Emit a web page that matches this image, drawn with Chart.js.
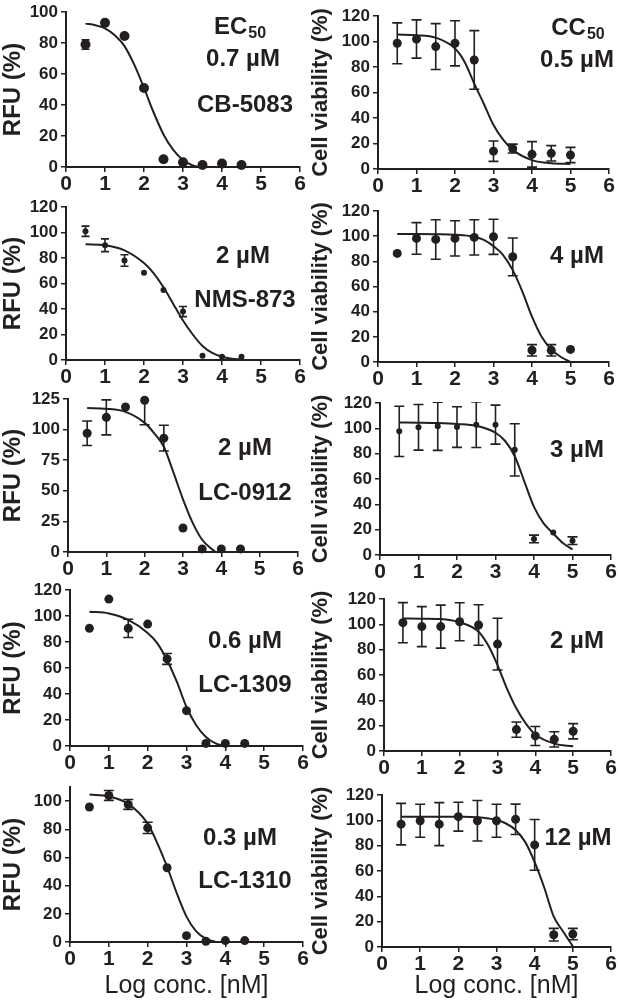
<!DOCTYPE html>
<html>
<head>
<meta charset="utf-8">
<script src="https://cdn.jsdelivr.net/npm/chart.js@4.4.1/dist/chart.umd.min.js"></script>
<style>
  body { margin: 0; background: #fff; width: 618px; height: 1004px; position: relative; overflow: hidden; }
  canvas { position: absolute; }
</style>
</head>
<body>
<script>
// doses (log nM)
const doseRfu = [0.5, 1, 1.5, 2, 2.5, 3, 3.5, 4, 4.5];
const doseViab = [0.5, 1, 1.5, 2, 2.5, 3, 3.5, 4, 4.5, 5];
const xTicks = [0, 1, 2, 3, 4, 5, 6];

// CB-5083
const cbRfu = [79, 93, 84.5, 51, 5, 3, 1.3, 2.2, 1.3];
const cbRfuErr = [3, 0, 0, 0, 0, 0, 0, 0, 0];
const cbRfuFitX = [0.5, 0.75, 1, 1.25, 1.5, 1.75, 2, 2.25, 2.5, 2.75, 3, 3.25, 3.4];
const cbRfuFitY = [92.5, 91.5, 89.5, 85, 78, 66, 51, 35, 21, 11, 4.5, 1, 0];
const cbViab = [98.6, 102, 96, 98.6, 85.5, 14, 16, 11.5, 12.3, 11];
const cbViabErr = [16, 15, 18, 17.7, 23, 8, 3.5, 10, 6, 6];
const cbViabFitX = [0.5, 1, 1.5, 2, 2.25, 2.5, 2.75, 3, 3.25, 3.5, 4, 4.5, 5];
const cbViabFitY = [105.5, 105, 103, 94.5, 84, 67, 51, 34.5, 23, 15, 7, 4.5, 4];

// NMS-873
const nmsRfu = [101, 90, 78, 68.5, 55, 38, 3.4, 2.6, 2.6];
const nmsRfuErr = [4, 5, 4.5, 0, 0, 4, 0, 0, 0];
const nmsRfuFitX = [0.5, 1, 1.5, 2, 2.25, 2.5, 2.75, 3, 3.25, 3.5, 3.75, 4, 4.25, 4.5];
const nmsRfuFitY = [90.8, 90, 86, 76, 68, 57, 44, 31, 20, 11, 5.5, 2.5, 1, 0.5];
const nmsViab = [86.3, 98.2, 97.4, 98.2, 99, 99.5, 83.6, 9.3, 9.3, 10];
const nmsViabErr = [0, 12.6, 15.7, 14, 14, 14, 15, 4.5, 4.5, 0];
const nmsViabFitX = [0.5, 1, 1.5, 2, 2.5, 2.75, 3, 3.25, 3.5, 3.75, 4, 4.25, 4.5, 4.75, 5];
const nmsViabFitY = [101.7, 101.7, 101.6, 101.2, 99.5, 97, 92, 85, 73, 56, 36, 20, 10, 4, 0];

// LC-0912
const lc0912Rfu = [97, 110, 118.5, 124, 93, 19.6, 2.5, 2.5, 2.5];
const lc0912RfuErr = [10, 14.3, 0, 20, 10.5, 0, 0, 0, 0];
const lc0912RfuFitX = [0.5, 1, 1.5, 2, 2.25, 2.5, 2.75, 3, 3.25, 3.5, 3.75, 3.85];
const lc0912RfuFitY = [117.6, 117, 114.5, 105.5, 97, 86, 65, 43, 24, 10, 2.5, 0];
const lc0912Viab = [97.6, 100.8, 101.6, 101, 102.9, 102.9, 83, 12.7, 17.7, 11.3];
const lc0912ViabErr = [19.8, 18, 19, 16, 18, 15.4, 20.6, 3, 0, 3];
const lc0912ViabFitX = [0.5, 1, 1.5, 2, 2.5, 3, 3.25, 3.5, 3.75, 4, 4.25, 4.5, 4.75, 5];
const lc0912ViabFitY = [104.7, 104.5, 104.2, 103.5, 102, 96.5, 90, 78, 58, 38, 25, 17, 9.5, 4.5];

// LC-1309
const lc1309Rfu = [90.5, 113, 90.5, 93.8, 67, 27.2, 2, 2, 2];
const lc1309RfuErr = [0, 0, 7, 0, 4.2, 0, 0, 0, 0];
const lc1309RfuFitX = [0.5, 1, 1.5, 2, 2.25, 2.5, 2.75, 3, 3.25, 3.5, 3.75, 4];
const lc1309RfuFitY = [103.3, 102, 97, 87, 79, 66, 49.5, 30, 16, 7, 2, 0];
const lc1309Viab = [101.3, 98.2, 98.2, 102, 99.5, 84.4, 16.9, 11.9, 9.2, 15.6];
const lc1309ViabErr = [15.8, 15.8, 17, 15, 16, 20.4, 6, 7.5, 6, 6];
const lc1309ViabFitX = [0.5, 1, 1.5, 2, 2.5, 2.75, 3, 3.25, 3.5, 3.75, 4, 4.5, 5];
const lc1309ViabFitY = [104.7, 104.5, 104.2, 101.6, 94.2, 83.6, 67.8, 49.3, 33.5, 21.6, 13, 5.8, 3.7];

// LC-1310
const lc1310Rfu = [95.8, 104, 97.6, 81, 52.7, 4.5, 0.5, 1, 1];
const lc1310RfuErr = [0, 3.5, 3.5, 4, 0, 0, 0, 0, 0];
const lc1310RfuFitX = [0.5, 1, 1.5, 2, 2.25, 2.5, 2.75, 3, 3.25, 3.5, 3.75];
const lc1310RfuFitY = [104.7, 103.3, 98, 84, 70, 53.4, 34.6, 18, 7.5, 2.3, 0];
const lc1310Viab = [97, 99.7, 97, 102.9, 99.7, 99.7, 100.8, 80.6, 9.7, 10.2];
const lc1310ViabErr = [16.4, 13, 17, 11.4, 16, 13, 12, 20, 5, 4.5];
const lc1310ViabFitX = [0.5, 1, 1.5, 2, 2.5, 3, 3.25, 3.5, 3.75, 4, 4.25, 4.5, 4.75, 5];
const lc1310ViabFitY = [102.9, 102.9, 102.9, 102.8, 102.4, 100.3, 97.5, 92.4, 83, 67, 47, 24, 12, 0.5];

const ink = '#231f20';
const family = "'Liberation Sans', Arial, Helvetica, sans-serif";

// panel layout, page pixels (chart area edges)
const panels = [
  { col: 0, left: 66, right: 300, top: 12, bottom: 167, yMax: 100, yStep: 20, x: doseRfu, y: cbRfu, err: cbRfuErr, fx: cbRfuFitX, fy: cbRfuFitY, r: 5, cap: 4,
    notes: [{ t: 'EC', sub: '50', cx: 240, by: 34 }, { t: '0.7 µM', cx: 243, by: 66 }, { t: 'CB-5083', cx: 245, by: 112 }] },
  { col: 1, left: 378, right: 609, top: 16, bottom: 169, yMax: 120, yStep: 20, x: doseViab, y: cbViab, err: cbViabErr, fx: cbViabFitX, fy: cbViabFitY, r: 4.5, cap: 5,
    notes: [{ t: 'CC', sub: '50', cx: 578, by: 35 }, { t: '0.5 µM', cx: 577, by: 67 }] },
  { col: 0, left: 66, right: 300, top: 207, bottom: 360, yMax: 120, yStep: 20, x: doseRfu, y: nmsRfu, err: nmsRfuErr, fx: nmsRfuFitX, fy: nmsRfuFitY, r: 3, cap: 4,
    notes: [{ t: '2 µM', cx: 243, by: 263 }, { t: 'NMS-873', cx: 245, by: 307 }] },
  { col: 1, left: 378, right: 609, top: 211, bottom: 362, yMax: 120, yStep: 20, x: doseViab, y: nmsViab, err: nmsViabErr, fx: nmsViabFitX, fy: nmsViabFitY, r: 4.5, cap: 5,
    notes: [{ t: '4 µM', cx: 577, by: 263 }] },
  { col: 0, left: 68, right: 298, top: 399, bottom: 552, yMax: 125, yStep: 25, x: doseRfu, y: lc0912Rfu, err: lc0912RfuErr, fx: lc0912RfuFitX, fy: lc0912RfuFitY, r: 4.5, cap: 5,
    notes: [{ t: '2 µM', cx: 245, by: 455 }, { t: 'LC-0912', cx: 245, by: 500 }] },
  { col: 1, left: 380, right: 611, top: 403, bottom: 555, yMax: 120, yStep: 20, x: doseViab, y: lc0912Viab, err: lc0912ViabErr, fx: lc0912ViabFitX, fy: lc0912ViabFitY, r: 3, cap: 5,
    notes: [{ t: '3 µM', cx: 577, by: 457 }] },
  { col: 0, left: 70, right: 303, top: 590, bottom: 746, yMax: 120, yStep: 20, x: doseRfu, y: lc1309Rfu, err: lc1309RfuErr, fx: lc1309RfuFitX, fy: lc1309RfuFitY, r: 4.5, cap: 5,
    notes: [{ t: '0.6 µM', cx: 245, by: 648 }, { t: 'LC-1309', cx: 245, by: 692 }] },
  { col: 1, left: 384, right: 611, top: 599, bottom: 751, yMax: 120, yStep: 20, x: doseViab, y: lc1309Viab, err: lc1309ViabErr, fx: lc1309ViabFitX, fy: lc1309ViabFitY, r: 4.5, cap: 5,
    notes: [{ t: '2 µM', cx: 577, by: 648 }] },
  { col: 0, left: 70, right: 303, top: 787, bottom: 942, yMax: 110, yStep: 20, x: doseRfu, y: lc1310Rfu, err: lc1310RfuErr, fx: lc1310RfuFitX, fy: lc1310RfuFitY, r: 4.5, cap: 5, last: true,
    notes: [{ t: '0.3 µM', cx: 240, by: 845 }, { t: 'LC-1310', cx: 245, by: 888 }] },
  { col: 1, left: 382, right: 611, top: 795, bottom: 947, yMax: 120, yStep: 20, x: doseViab, y: lc1310Viab, err: lc1310ViabErr, fx: lc1310ViabFitX, fy: lc1310ViabFitY, r: 4.5, cap: 5, last: true,
    notes: [{ t: '12 µM', cx: 578, by: 845 }] }
];

const errorBars = {
  id: 'errorBars',
  beforeDatasetsDraw(chart, args, o) {
    const { ctx, chartArea: a, scales: { x, y } } = chart;
    ctx.save();
    ctx.beginPath();
    ctx.rect(a.left, a.top - 1, a.right - a.left, a.bottom - a.top + 1);
    ctx.clip();
    ctx.strokeStyle = ink;
    ctx.lineWidth = 1.6;
    o.xs.forEach((v, i) => {
      const e = o.err[i];
      if (!e) return;
      const px = x.getPixelForValue(v);
      const y1 = y.getPixelForValue(o.ys[i] + e);
      const y2 = y.getPixelForValue(o.ys[i] - e);
      ctx.beginPath();
      ctx.moveTo(px, y1); ctx.lineTo(px, y2);
      ctx.moveTo(px - o.cap, y1); ctx.lineTo(px + o.cap, y1);
      ctx.moveTo(px - o.cap, y2); ctx.lineTo(px + o.cap, y2);
      ctx.stroke();
    });
    ctx.restore();
  }
};

const notes = {
  id: 'notes',
  afterDraw(chart, args, o) {
    const ctx = chart.ctx;
    ctx.save();
    ctx.fillStyle = ink;
    ctx.textBaseline = 'alphabetic';
    ctx.textAlign = 'left';
    const big = 'bold 24px ' + family, small = 'bold 16px ' + family;
    o.items.forEach(n => {
      ctx.font = big;
      const w1 = ctx.measureText(n.t).width;
      let w2 = 0;
      if (n.sub) { ctx.font = small; w2 = ctx.measureText(n.sub).width + 1; }
      const x0 = n.cx - o.dx - (w1 + w2) / 2;
      const yb = n.by - o.dy;
      ctx.font = big;
      ctx.fillText(n.t, x0, yb);
      if (n.sub) { ctx.font = small; ctx.fillText(n.sub, x0 + w1 + 1, yb + 4); }
    });
    ctx.restore();
  }
};

panels.forEach(p => {
  const colLeft = p.col * 309;
  const cTop = p.top - 14;
  const cHeight = p.last ? 1004 - cTop : p.bottom - cTop + 30;
  const cv = document.createElement('canvas');
  cv.width = 309;
  cv.height = cHeight;
  cv.style.left = colLeft + 'px';
  cv.style.top = cTop + 'px';
  document.body.appendChild(cv);
  const yW = p.left - colLeft;
  const xH = cHeight - (p.bottom - cTop);
  const left = p.col === 0;

  new Chart(cv, {
    type: 'scatter',
    data: {
      datasets: [
        {
          data: p.x.map((v, i) => ({ x: v, y: p.y[i] })),
          pointRadius: p.r,
          pointBackgroundColor: ink,
          pointBorderColor: ink,
          pointBorderWidth: 0,
          showLine: false,
          clip: false
        },
        {
          data: p.fx.map((v, i) => ({ x: v, y: p.fy[i] })),
          showLine: true,
          pointRadius: 0,
          borderColor: ink,
          borderWidth: 2,
          cubicInterpolationMode: 'monotone',
          fill: false
        }
      ]
    },
    options: {
      responsive: false,
      animation: false,
      layout: { padding: { top: 14, left: 0, bottom: 0, right: colLeft + 309 - p.right } },
      plugins: {
        legend: { display: false },
        tooltip: { enabled: false },
        errorBars: { xs: p.x, ys: p.y, err: p.err, cap: p.cap },
        notes: { items: p.notes, dx: colLeft, dy: cTop }
      },
      scales: {
        x: {
          type: 'linear', min: 0, max: 6,
          afterBuildTicks: s => { s.ticks = xTicks.map(v => ({ value: v })); },
          afterFit: s => { s.height = xH; },
          grid: { display: true, drawOnChartArea: false, drawTicks: true, tickLength: 5, lineWidth: 1.5, color: ink },
          border: { display: true, color: ink, width: 2 },
          ticks: { color: ink, font: { family, size: 21, weight: 'bold' }, padding: 0, maxRotation: 0, autoSkip: false },
          title: {
            display: !!p.last, text: 'Log conc. [nM]', color: ink,
            font: { family, size: 25, lineHeight: 1 }, padding: { top: 0, bottom: 5 }
          }
        },
        y: {
          min: 0, max: p.yMax,
          afterFit: s => { s.width = yW; },
          grid: { display: true, drawOnChartArea: false, drawTicks: true, tickLength: 5, lineWidth: 1.5, color: ink },
          border: { display: true, color: ink, width: 2 },
          ticks: { stepSize: p.yStep, includeBounds: false, color: ink, font: { family, size: 17, weight: 'bold' }, padding: 3 },
          title: {
            display: true, text: left ? 'RFU (%)' : 'Cell viability (%)', color: ink,
            font: { family, size: left ? 24 : 22, weight: 'bold', lineHeight: 1 }, padding: { top: 1, bottom: 0 }
          }
        }
      }
    },
    plugins: [errorBars, notes]
  });
});
</script>
</body>
</html>
